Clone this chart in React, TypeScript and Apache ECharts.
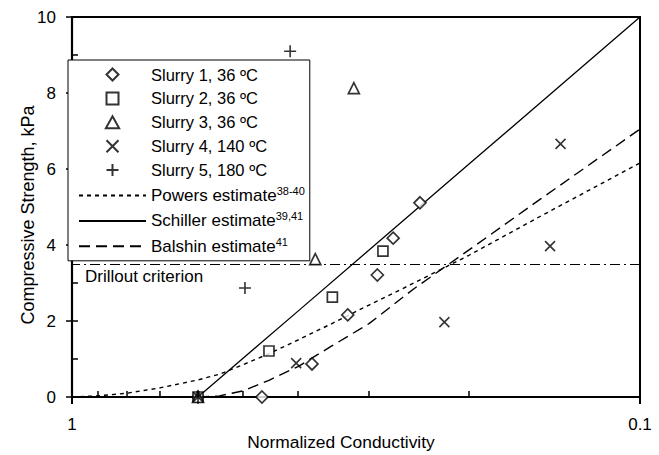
import React, { useEffect, useRef } from 'react';
import * as echarts from 'echarts';

// ---- data ----
const slurry1X = [0.6, 0.463, 0.378, 0.327, 0.29, 0.272, 0.244];
const slurry1Y = [0, 0, 0.87, 2.16, 3.21, 4.18, 5.11];
const slurry2X = [0.6, 0.45, 0.348, 0.2835];
const slurry2Y = [0, 1.21, 2.63, 3.84];
const slurry3X = [0.6, 0.373, 0.319];
const slurry3Y = [0, 3.63, 8.13];
const slurry4X = [0.6, 0.403, 0.221, 0.144, 0.138];
const slurry4Y = [0, 0.89, 1.97, 3.97, 6.66];
const slurry5X = [0.6, 0.496, 0.413];
const slurry5Y = [0, 2.87, 9.1];

const powersX = [1, 0.9, 0.8, 0.7, 0.6, 0.55, 0.5, 0.45, 0.4, 0.35, 0.3, 0.25, 0.2, 0.15, 0.1];
const powersY = [0, 0.03, 0.1, 0.24, 0.45, 0.6, 0.85, 1.14, 1.5, 1.92, 2.42, 3.0, 3.73, 4.75, 6.16];
const schillerX = [0.6, 0.4, 0.2, 0.1];
const schillerY = [0, 2.26, 6.13, 10];
const balshinX = [0.6, 0.55, 0.5, 0.45, 0.4, 0.35, 0.3, 0.25, 0.2, 0.15, 0.1];
const balshinY = [0, 0.03, 0.16, 0.44, 0.8, 1.33, 1.93, 2.85, 3.87, 5.2, 7.05];

const drilloutLevel = 3.5;
const xMinorTicks = [0.9, 0.8, 0.7, 0.6, 0.5, 0.4, 0.3, 0.2];
const yInnerTicks = [1, 2, 3, 4, 5, 6, 7, 8, 9];

const slurryNames = ['Slurry 1, 36 ºC', 'Slurry 2, 36 ºC', 'Slurry 3, 36 ºC', 'Slurry 4, 140 ºC', 'Slurry 5, 180 ºC'];
const estimateNames = ['Powers estimate', 'Schiller estimate', 'Balshin estimate'];
const estimateRefs = ['38-40', '39,41', '41'];

const FONT = '"Liberation Sans", Arial, sans-serif';

const zip = (xs: number[], ys: number[]) => xs.map((x, i) => [x, ys[i]]);

export default function App() {
  const ref = useRef<HTMLDivElement>(null);
  useEffect(() => {
    document.body.style.margin = '0';
    const chart = echarts.init(ref.current!, null, { renderer: 'svg' });

    const open = { color: '#fff', borderColor: '#000', borderWidth: 1.7 };
    const stroke = { color: 'transparent', borderColor: '#000', borderWidth: 1.6 };
    const scatterDefs = [
      { x: slurry1X, y: slurry1Y, symbol: 'path://M5,0L10,5L5,10L0,5Z', size: 12, style: open },
      { x: slurry2X, y: slurry2Y, symbol: 'path://M0,0L10,0L10,10L0,10Z', size: 10, style: open },
      { x: slurry3X, y: slurry3Y, symbol: 'path://M5,0L10,9L0,9Z', size: 11, style: open },
      { x: slurry4X, y: slurry4Y, symbol: 'path://M0,0L10,10M0,10L10,0', size: 10, style: stroke },
      { x: slurry5X, y: slurry5Y, symbol: 'path://M5,0L5,10M0,5L10,5', size: 12, style: stroke },
    ];

    const scatterSeries = scatterDefs.map((d, i) => ({
      type: 'scatter',
      name: slurryNames[i],
      data: zip(d.x, d.y),
      symbol: d.symbol,
      symbolSize: d.size,
      itemStyle: d.style,
      z: 5,
      silent: true,
    }));

    const lineDefs = [
      { x: powersX, y: powersY, type: [4, 4], width: 1.4 },
      { x: schillerX, y: schillerY, type: 'solid', width: 1.3 },
      { x: balshinX, y: balshinY, type: [11, 6], width: 1.4 },
    ];
    const lineSeries: any[] = lineDefs.map((d, i) => ({
      type: 'line',
      name: estimateNames[i],
      data: zip(d.x, d.y),
      showSymbol: false,
      symbol: 'circle',
      symbolSize: 0,
      smooth: false,
      lineStyle: { color: '#000', width: d.width, type: d.type },
      itemStyle: { color: 'transparent', borderWidth: 0, borderColor: 'transparent' },
      z: 3,
      silent: true,
    }));
    lineSeries[1].markLine = {
      silent: true,
      symbol: 'none',
      label: { show: false },
      lineStyle: { color: '#000', width: 1, type: [10, 4, 2, 4] },
      data: [{ yAxis: drilloutLevel }],
    };

    const tickData = [
      ...xMinorTicks.map((v) => [v, 0, 0]),
      ...yInnerTicks.map((v) => [1, v, 1]),
    ];
    const tickSeries = {
      type: 'custom',
      name: 'ticks',
      data: tickData,
      clip: false,
      silent: true,
      z: 6,
      renderItem: (_p: any, api: any) => {
        const p = api.coord([api.value(0), api.value(1)]);
        const horizontal = api.value(2) === 1;
        return {
          type: 'line',
          shape: horizontal
            ? { x1: p[0], y1: p[1], x2: p[0] + 6, y2: p[1] }
            : { x1: p[0], y1: p[1], x2: p[0], y2: p[1] - 6 },
          style: { stroke: '#000', lineWidth: 1.5 },
        };
      },
    };

    const legendFormatter = (name: string) => {
      const si = slurryNames.indexOf(name);
      if (si >= 0) return `{a|${name}}`;
      const ei = estimateNames.indexOf(name);
      return `{b|${name}}{s|${estimateRefs[ei]}}`;
    };

    chart.setOption({
      animation: false,
      textStyle: { fontFamily: FONT, color: '#000' },
      grid: {
        left: 72, right: 19, top: 17, bottom: 58,
        show: true, borderColor: '#000', borderWidth: 2,
        outerBoundsMode: 'none',
      },
      xAxis: {
        type: 'log',
        logBase: 10,
        min: 0.1,
        max: 1,
        inverse: true,
        axisLine: { lineStyle: { color: '#000', width: 2.2 } },
        axisTick: { show: true, length: 7, lineStyle: { color: '#000', width: 2 } },
        axisLabel: {
          fontSize: 17, color: '#000', margin: 19, fontFamily: FONT,
          formatter: (v: number) => String(Math.round(v * 10) / 10),
        },
        splitLine: { show: false },
        minorTick: { show: false },
      },
      yAxis: {
        type: 'value',
        min: 0,
        max: 10,
        interval: 2,
        axisLine: { show: true, lineStyle: { color: '#000', width: 2.2 } },
        axisTick: { show: true, length: 6, lineStyle: { color: '#000', width: 1.5 } },
        axisLabel: { fontSize: 17, color: '#000', margin: 16, fontFamily: FONT },
        splitLine: { show: false },
      },
      legend: {
        orient: 'vertical',
        left: 68,
        top: 60,
        padding: [6, 5, 6, 10],
        backgroundColor: '#fff',
        borderColor: '#000',
        borderWidth: 1,
        borderRadius: 0,
        itemWidth: 67,
        itemHeight: 12,
        itemGap: 6.9,
        symbolKeepAspect: true,
        selectedMode: false,
        z: 10,
        data: [...slurryNames, ...estimateNames],
        formatter: legendFormatter,
        textStyle: {
          fontFamily: FONT,
          color: '#000',
          rich: {
            a: { fontSize: 16.5, lineHeight: 20, fontFamily: FONT, color: '#000' },
            b: { fontSize: 17, lineHeight: 20, fontFamily: FONT, color: '#000' },
            s: { fontSize: 11, lineHeight: 12, verticalAlign: 'top', fontFamily: FONT, color: '#000' },
          },
        },
      },
      graphic: [
        {
          type: 'text',
          x: 28,
          y: 215,
          rotation: Math.PI / 2,
          style: {
            text: 'Compressive Strength, kPa',
            fontSize: 18,
            fontFamily: FONT,
            fill: '#000',
            align: 'center',
            verticalAlign: 'middle',
          },
        },
        {
          type: 'text',
          x: 341,
          y: 442,
          style: {
            text: 'Normalized Conductivity',
            fontSize: 17.4,
            fontFamily: FONT,
            fill: '#000',
            align: 'center',
            verticalAlign: 'middle',
          },
        },
        {
          type: 'text',
          x: 85,
          y: 276,
          z: 20,
          style: {
            text: 'Drillout criterion',
            fontSize: 17,
            fontFamily: FONT,
            fill: '#000',
            align: 'left',
            verticalAlign: 'middle',
          },
        },
      ],
      series: [...lineSeries, ...scatterSeries, tickSeries],
    });

    return () => chart.dispose();
  }, []);

  return <div ref={ref} style={{ width: 659, height: 455 }} />;
}
